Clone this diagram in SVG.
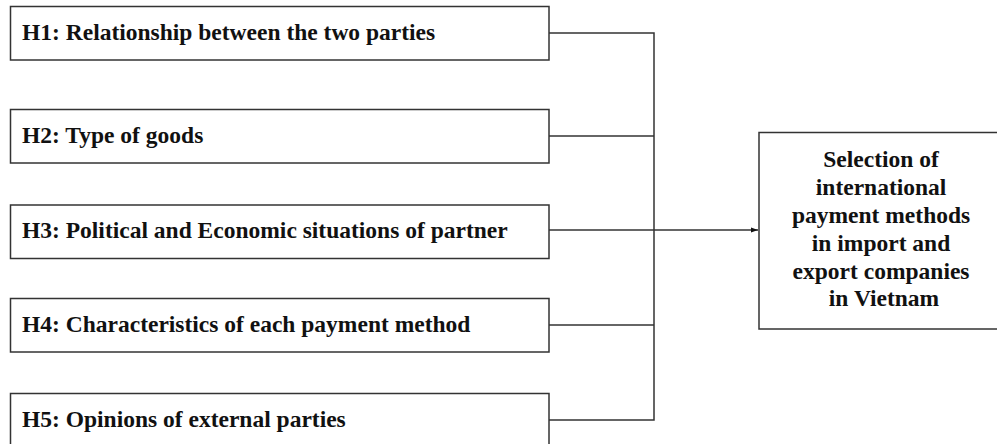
<svg xmlns="http://www.w3.org/2000/svg" width="997" height="444" viewBox="0 0 997 444">
  <style>
    .box { fill: #ffffff; stroke: #333333; stroke-width: 1.5; }
    .label { font-family: "Liberation Serif", "Times New Roman", serif; font-weight: bold; font-size: 23.5px; fill: #111111; }
    .wire { fill: none; stroke: #333333; stroke-width: 1.5; }
  </style>
  <defs>
    <marker id="arrow" viewBox="0 0 10 10" refX="10" refY="5" markerWidth="7" markerHeight="7" markerUnits="userSpaceOnUse" orient="auto">
      <path d="M0,1.5 L10,5 L0,8.5 Z" fill="#111111"/>
    </marker>
  </defs>
  <rect width="997" height="444" fill="#ffffff"/>

  <g id="connectors">
    <path class="wire" d="M549,33 H654 V420 H549"/>
    <path class="wire" d="M549,136 H654"/>
    <path class="wire" d="M549,325 H654"/>
    <path class="wire" d="M549,230 H758" marker-end="url(#arrow)"/>
  </g>

  <g id="h1">
    <rect class="box" x="10.5" y="6.5" width="538.5" height="53.5"/>
    <text class="label" x="22" y="40">H1: Relationship between the two parties</text>
  </g>
  <g id="h2">
    <rect class="box" x="10.5" y="109.5" width="538.5" height="53.5"/>
    <text class="label" x="22" y="143">H2: Type of goods</text>
  </g>
  <g id="h3">
    <rect class="box" x="10.5" y="205" width="538.5" height="53.5"/>
    <text class="label" x="22" y="238">H3: Political and Economic situations of partner</text>
  </g>
  <g id="h4">
    <rect class="box" x="10.5" y="298.5" width="538.5" height="53.5"/>
    <text class="label" x="22" y="332">H4: Characteristics of each payment method</text>
  </g>
  <g id="h5">
    <rect class="box" x="10.5" y="393.5" width="538.5" height="60"/>
    <text class="label" x="22" y="427">H5: Opinions of external parties</text>
  </g>

  <g id="outcome">
    <rect class="box" x="759" y="132.5" width="250" height="196.5"/>
    <text class="label" text-anchor="middle">
      <tspan x="884" y="167">Selection of</tspan>
      <tspan x="884" y="195">international</tspan>
      <tspan x="884" y="223">payment methods</tspan>
      <tspan x="884" y="250.5">in import and</tspan>
      <tspan x="884" y="278.5">export companies</tspan>
      <tspan x="884" y="306">in Vietnam</tspan>
    </text>
  </g>
</svg>
